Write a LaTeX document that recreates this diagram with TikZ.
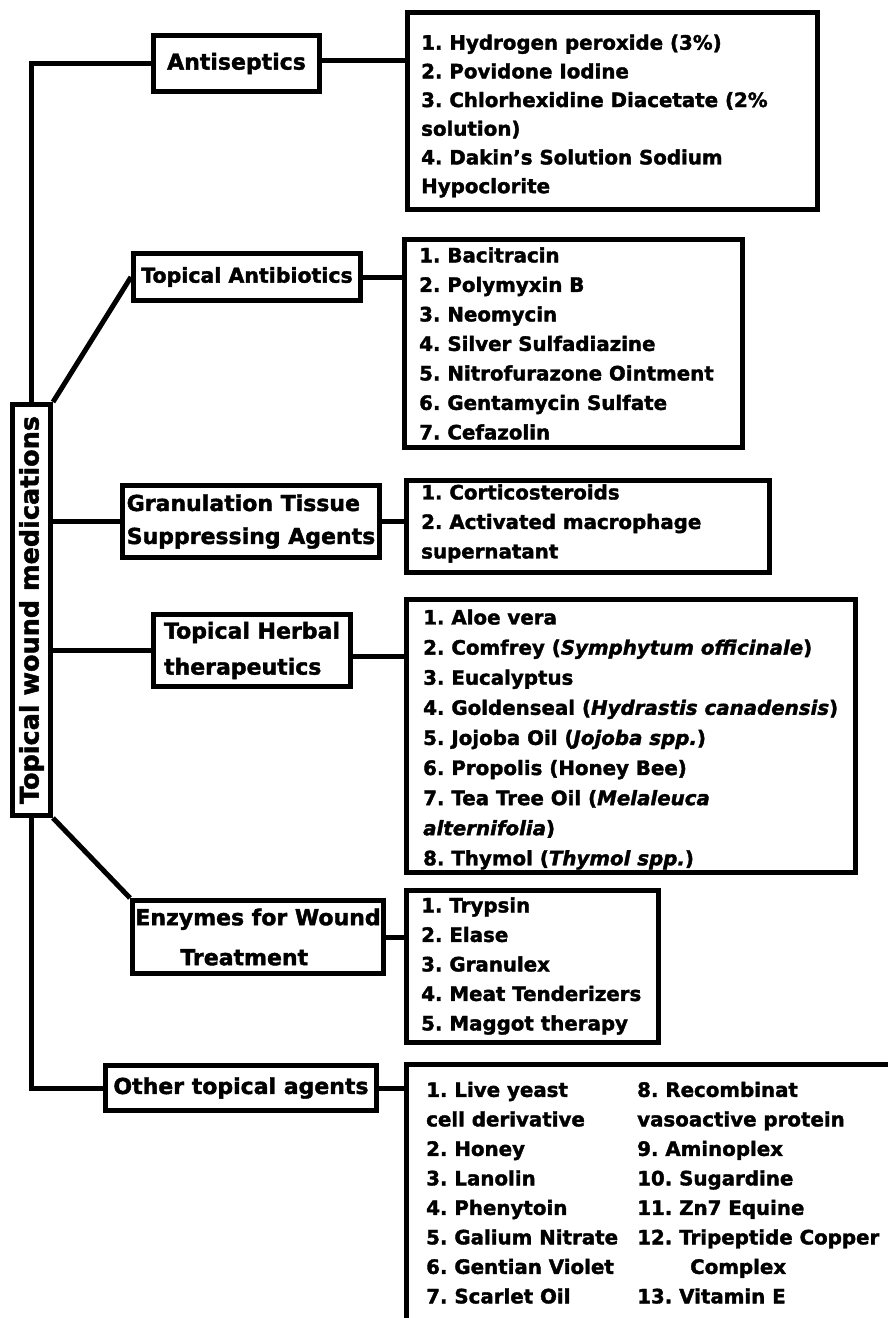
\documentclass[tikz,border=0pt]{standalone}
\usepackage{fontspec}
\setmainfont{DejaVu Sans}[BoldFeatures={FakeBold=1.8},BoldItalicFeatures={FakeBold=1.8}]
\frenchspacing
\begin{document}
\begin{tikzpicture}[x=1pt,y=-1pt,
  box/.style={draw, line width=5pt, rectangle, inner sep=0pt},
  conn/.style={line width=5pt},
  ttl/.style={font=\fontsize{22}{33}\selectfont\bfseries, align=left},
  listtext/.style={font=\fontsize{19.8}{29.5}\selectfont\bfseries, align=left, inner sep=0pt, anchor=west}]
\useasboundingbox (0,0) rectangle (887,1318);
% root
\node[box, minimum width=38pt, minimum height=411pt, font=\fontsize{25.5}{30}\selectfont\bfseries] (root) at (31.5,610) {\rotatebox{90}{Topical wound medications}};
% category boxes
\node[box, ttl, minimum width=166pt, minimum height=56pt] (anti) at (236.5,63.5) {Antiseptics};
\node[box, ttl, font=\fontsize{20.5}{30}\selectfont\bfseries, minimum width=227pt, minimum height=47pt] (abx) at (247,277) {Topical Antibiotics};
\node[box, ttl, minimum width=257pt, minimum height=72pt] (gran) at (251,521.5) {Granulation Tissue\\Suppressing Agents};
\node[box, ttl, font=\fontsize{22}{36}\selectfont\bfseries, minimum width=197pt, minimum height=72pt] (herb) at (252,650.5) {Topical Herbal\\therapeutics};
\node[box, ttl, font=\fontsize{22}{40}\selectfont\bfseries, minimum width=251pt, minimum height=73pt] (enz) at (258,937) {Enzymes for Wound\\\hspace{45pt}Treatment};
\node[box, ttl, minimum width=271pt, minimum height=45pt] (other) at (241,1088) {Other topical agents};
% list boxes
\node[box, minimum width=410pt, minimum height=197pt] (l1) at (612.5,111) {};
\node[box, minimum width=338pt, minimum height=208pt] (l2) at (573.5,343.5) {};
\node[box, minimum width=363pt, minimum height=92pt] (l3) at (588,526.5) {};
\node[box, minimum width=449pt, minimum height=273pt] (l4) at (631,736) {};
\node[box, minimum width=252pt, minimum height=152pt] (l5) at (532.5,966.5) {};
\coordinate (l6tl) at (406.5,1064.5);
\coordinate (l6bl) at (406.5,1330);
\coordinate (l6tr) at (900,1064.5);
\draw[conn] (l6bl) -- (l6tl) -- (l6tr);
% list texts
\node[listtext, font=\fontsize{19.8}{28.7}\selectfont\bfseries] (t1) at ([xshift=16pt,yshift=-5pt]l1.west) {1. Hydrogen peroxide (3\%)\\2. Povidone Iodine\\3. Chlorhexidine Diacetate (2\%\\solution)\\4. Dakin's Solution Sodium\\Hypoclorite};
\node[listtext] (t2) at ([xshift=17pt]l2.west) {1. Bacitracin\\2. Polymyxin B\\3. Neomycin\\4. Silver Sulfadiazine\\5. Nitrofurazone Ointment\\6. Gentamycin Sulfate\\7. Cefazolin};
\node[listtext] (t3) at ([xshift=17pt,yshift=3pt]l3.west) {1. Corticosteroids\\2. Activated macrophage\\supernatant};
\node[listtext, font=\fontsize{19.8}{30.1}\selectfont\bfseries] (t4) at ([xshift=19pt,yshift=-3.5pt]l4.west) {1. Aloe vera\\2. Comfrey (\textit{Symphytum officinale})\\3. Eucalyptus\\4. Goldenseal (\textit{Hydrastis canadensis})\\5. Jojoba Oil (\textit{Jojoba spp.})\\6. Propolis (Honey Bee)\\7. Tea Tree Oil (\textit{Melaleuca}\\\textit{alternifolia})\\8. Thymol (\textit{Thymol spp.})};
\node[listtext] (t5) at ([xshift=17pt,yshift=0.5pt]l5.west) {1. Trypsin\\2. Elase\\3. Granulex\\4. Meat Tenderizers\\5. Maggot therapy};
\node[listtext, anchor=north west] (t6) at (426,1076) {\begin{tabular}{@{}p{211pt}@{}l@{}}
1. Live yeast & 8. Recombinat\\
cell derivative & vasoactive protein\\
2. Honey & 9. Aminoplex\\
3. Lanolin & 10. Sugardine\\
4. Phenytoin & 11. Zn7 Equine\\
5. Galium Nitrate & 12. Tripeptide Copper\\
6. Gentian Violet & \hspace{53pt}Complex\\
7. Scarlet Oil & 13. Vitamin E
\end{tabular}};
% connectors: trunk
\draw[conn] (anti.west) -| (root.north);
\draw[conn] (root.south) |- (other.west);
\draw[conn] (root.north east) -- (abx.west);
\draw[conn] (root.south east) -- (enz.north west);
\draw[conn] (gran.west) -- (gran.west -| root.east);
\draw[conn] (herb.west) -- (herb.west -| root.east);
% connectors: to lists
\draw[conn] ([yshift=3.5pt]anti.east) -- ([yshift=3.5pt]anti.east -| l1.west);
\draw[conn] (abx.east) -- (abx.east -| l2.west);
\draw[conn] (gran.east) -- (gran.east -| l3.west);
\draw[conn] ([yshift=-5.5pt]herb.east) -- ([yshift=-5.5pt]herb.east -| l4.west);
\draw[conn] (enz.east) -- (enz.east -| l5.west);
\draw[conn] (other.east) -- (other.east -| l6tl);
\end{tikzpicture}
\end{document}
